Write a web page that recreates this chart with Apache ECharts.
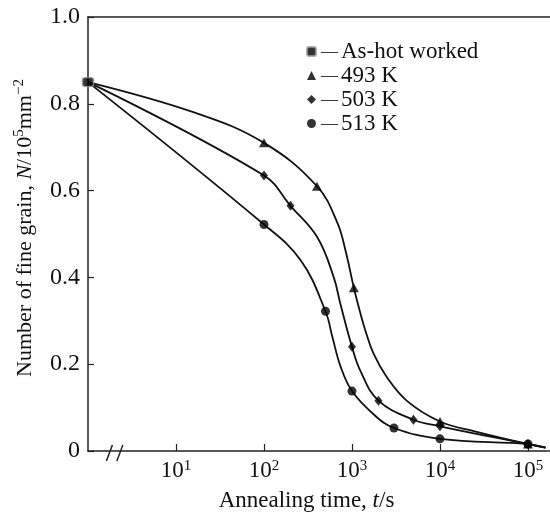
<!DOCTYPE html>
<html><head><meta charset="utf-8">
<script src="https://cdn.jsdelivr.net/npm/echarts@6/dist/echarts.min.js"></script>
<style>html,body{margin:0;padding:0;background:#fff}#c{width:550px;height:517px}</style>
</head><body><div id="c"></div>
<script>
const FONT = "'Liberation Serif','Times New Roman',serif";
// axis ticks
const xTickValues = [10, 100, 1000, 10000, 100000];
const xTickExponents = ['1', '2', '3', '4', '5'];
const yTickValues = [0, 0.2, 0.4, 0.6, 0.8, 1.0];
const yTickLabels = ['0', '0.2', '0.4', '0.6', '0.8', '1.0'];
// series (time in s, N in 10^5 mm^-2) : measured markers
const seriesNames = ['As-hot worked', '493 K', '503 K', '513 K'];
const asHotTime = [1];
const asHotN = [0.85];
const t493 = [100, 400, 1050, 10000, 100000];
const n493 = [0.71, 0.61, 0.376, 0.068, 0.016];
const t503 = [100, 200, 1000, 2000, 5000, 10000, 100000];
const n503 = [0.635, 0.565, 0.24, 0.116, 0.072, 0.057, 0.016];
const t513 = [100, 500, 1000, 3000, 10000, 100000];
const n513 = [0.522, 0.322, 0.138, 0.053, 0.028, 0.016];
// extra points (no markers)
const fit493T = [16.7, 679, 844, 1195, 1423, 1770, 2512, 4240, 24200, 158000];
const fit493N = [0.779, 0.527, 0.462, 0.331, 0.277, 0.223, 0.169, 0.115, 0.046, 0.008];
const fit503T = [402, 621, 740, 1250, 158000];
const fit503N = [0.493, 0.40, 0.338, 0.184, 0.008];
const fit513T = [260, 600, 741, 1770, 158000];
const fit513N = [0.44, 0.262, 0.195, 0.084, 0.008];

function pairs(ts, ns) { return ts.map((t, i) => [t, ns[i]]); }
function curve(ts, ns, ft, fn) {
  return pairs(asHotTime, asHotN).concat(pairs(ts, ns), pairs(ft, fn)).sort((a, b) => a[0] - b[0]);
}

const chart = echarts.init(document.getElementById('c'), null, { renderer: 'canvas' });
const lineStyle = { color: '#111', width: 1.8 };
const supStyle = { fontSize: 15, lineHeight: 10, verticalAlign: 'top', fontFamily: FONT, color: '#111' };

const option = {
  animation: false,
  backgroundColor: '#fff',
  grid: { left: 88, right: 0, top: 17, bottom: 66 },
  xAxis: [{
    type: 'log', logBase: 10, min: 1, max: 178000,
    axisLine: { lineStyle: { color: '#222', width: 1.5 } },
    axisTick: { inside: true, length: 7, lineStyle: { color: '#222', width: 1.2 }, customValues: xTickValues },
    splitLine: { show: false }, minorTick: { show: false },
    axisLabel: {
      margin: 8, customValues: xTickValues,
      formatter: v => { const i = xTickValues.findIndex(x => Math.abs(x - v) / x < 1e-6); return i < 0 ? '' : '{b|10}{sup|' + xTickExponents[i] + '}'; },
      rich: { b: { fontSize: 23, lineHeight: 24, fontFamily: FONT, color: '#111' }, sup: supStyle }
    },
    name: '{b|Annealing time, }{i|t}{b|/s}', nameLocation: 'middle', nameGap: 38,
    nameTextStyle: {
      padding: [0, 25, 0, 0],
      rich: { b: { fontSize: 23, fontFamily: FONT, color: '#111' }, i: { fontSize: 23, fontStyle: 'italic', fontFamily: FONT, color: '#111' } }
    }
  }, {
    type: 'log', logBase: 10, min: 1, max: 178000, position: 'top',
    axisLine: { lineStyle: { color: '#222', width: 1.5 } },
    axisTick: { show: false }, axisLabel: { show: false }, splitLine: { show: false }
  }],
  yAxis: {
    type: 'value', min: 0, max: 1, interval: 0.2,
    axisLine: { show: true, lineStyle: { color: '#222', width: 1.5 } },
    axisTick: { show: true, inside: true, length: 6, lineStyle: { color: '#222', width: 1.2 } },
    splitLine: { show: false },
    axisLabel: {
      margin: 8, fontSize: 24, fontFamily: FONT, color: '#111',
      formatter: v => { const i = yTickValues.findIndex(x => Math.abs(x - v) < 1e-9); return i < 0 ? '' : yTickLabels[i]; }
    },
    name: '{b|Number of fine grain, }{i|N}{b|/10}{sup|5}{b|mm}{sup|−2}',
    nameLocation: 'middle', nameGap: 50,
    nameTextStyle: {
      padding: [0, 0, 0, 12],
      rich: {
        b: { fontSize: 22, lineHeight: 26, fontFamily: FONT, color: '#111' },
        i: { fontSize: 22, lineHeight: 26, fontStyle: 'italic', fontFamily: FONT, color: '#111' },
        sup: { fontSize: 15, lineHeight: 10, verticalAlign: 'top', fontFamily: FONT, color: '#111' }
      }
    }
  },
  legend: {
    orient: 'vertical', left: 301, top: 35, itemWidth: 9, itemHeight: 9, itemGap: 1,
    data: [
      { name: seriesNames[0], icon: 'roundRect' },
      { name: seriesNames[1], icon: 'triangle' },
      { name: seriesNames[2], icon: 'diamond' },
      { name: seriesNames[3], icon: 'circle' }
    ],
    formatter: n => '{d|—}{t|' + n + '}',
    textStyle: {
      rich: {
        d: { fontSize: 17, lineHeight: 19, fontFamily: FONT, color: '#111', padding: [0, 3, 0, 0] },
        t: { fontSize: 23, lineHeight: 19, fontFamily: FONT, color: '#111' }
      }
    }
  },
  series: [
    { name: '493 K fit', type: 'line', data: curve(t493, n493, fit493T, fit493N), smooth: 0.4, showSymbol: false, lineStyle, silent: true, z: 2 },
    { name: '503 K fit', type: 'line', data: curve(t503, n503, fit503T, fit503N), smooth: 0.4, showSymbol: false, lineStyle, silent: true, z: 2 },
    { name: '513 K fit', type: 'line', data: curve(t513, n513, fit513T, fit513N), smooth: 0.4, showSymbol: false, lineStyle, silent: true, z: 2 },
    { name: seriesNames[0], type: 'scatter', data: pairs(asHotTime, asHotN), symbol: 'roundRect', symbolSize: [11, 9], itemStyle: { color: '#000', borderColor: '#999', borderWidth: 1.5 }, z: 5 },
    { name: seriesNames[1], type: 'scatter', data: pairs(t493, n493), symbol: 'triangle', symbolSize: [10, 9], itemStyle: { color: '#000' }, z: 5 },
    { name: seriesNames[2], type: 'scatter', data: pairs(t503, n503), symbol: 'diamond', symbolSize: [8, 10], itemStyle: { color: '#000' }, z: 5 },
    { name: seriesNames[3], type: 'scatter', data: pairs(t513, n513), symbol: 'circle', symbolSize: 9, itemStyle: { color: '#000' }, z: 5 }
  ]
};
chart.setOption(option);

// axis break marks "//" placed through the axis scale
const y0 = chart.convertToPixel({ yAxisIndex: 0 }, 0);
const bx1 = chart.convertToPixel({ xAxisIndex: 0 }, 1.75);
const bx2 = chart.convertToPixel({ xAxisIndex: 0 }, 2.3);
const brk = [bx1, bx2].map(x => ({
  type: 'line', shape: { x1: x - 3, y1: y0 + 10, x2: x + 3, y2: y0 - 6 },
  style: { stroke: '#222', lineWidth: 1.5 }, z: 10
}));
chart.setOption({ graphic: brk });
</script></body></html>
